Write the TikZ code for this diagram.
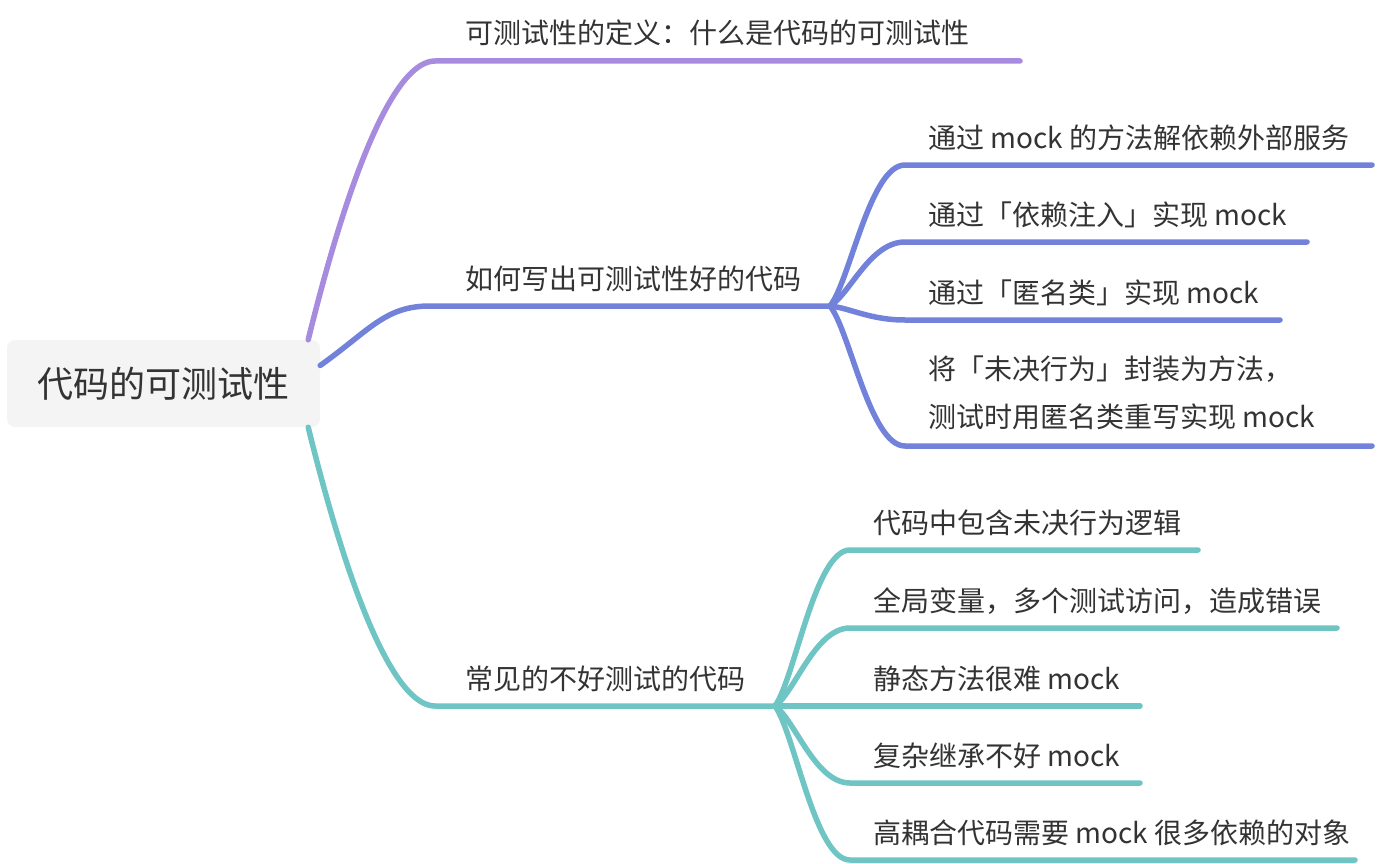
\documentclass[tikz,border=0pt]{standalone}
\usepackage{fontspec}
\setmainfont{Noto Sans CJK SC}
\usetikzlibrary{positioning}
\definecolor{defpurple}{HTML}{A78BDF}
\definecolor{howblue}{HTML}{7282DB}
\definecolor{badteal}{HTML}{6FC4C4}
\definecolor{rootgray}{HTML}{F4F4F4}
\definecolor{inkgray}{HTML}{333333}

\begin{document}
\begin{tikzpicture}[
x=1pt,y=-1pt,
root/.style={fill=rootgray, rounded corners=8pt, minimum width=313pt, minimum height=87pt, inner sep=0pt, text=inkgray, font=\fontsize{36pt}{40pt}\selectfont},
topic/.style={anchor=base west, inner sep=0pt, text=inkgray, font=\fontsize{28pt}{48pt}\selectfont, align=left},
branch/.style={line width=5.5pt, line cap=round}
]
\useasboundingbox (0,0) rectangle (1378,864);

% central topic
\node[root] (root) at (163.5,383.5) {代码的可测试性};

% first branch: definition
\node[topic] (def) at (465,44) {可测试性的定义：什么是代码的可测试性};
\coordinate (def-a) at (435,61);
\coordinate (def-b) at (1020,61);
\draw[branch, defpurple] ([xshift=-12pt]root.north east) .. controls (350,170) and (395,61) .. (def-a) -- (def-b);

% second branch: how to write testable code
\node[topic] (how) at (465,289) {如何写出可测试性好的代码};
\coordinate (how-a) at (430,306);
\coordinate (how-j) at (830,306);
\draw[branch, howblue] ([yshift=18pt]root.east) .. controls (370,330) and (385,306) .. (how-a) -- (how-j);

\node[topic] (ext) at (928,148) {通过 mock 的方法解依赖外部服务};
\node[topic] (inject) at (928,225) {通过「依赖注入」实现 mock};
\node[topic] (anon) at (928,303) {通过「匿名类」实现 mock};
\node[topic] (defer) at (928,427) {将「未决行为」封装为方法，\\测试时用匿名类重写实现 mock};
\coordinate (ext-a) at (905,165);
\coordinate (ext-b) at (1372,165);
\coordinate (inject-a) at (905,242);
\coordinate (inject-b) at (1307,242);
\coordinate (anon-a) at (905,320);
\coordinate (anon-b) at (1280,320);
\coordinate (defer-a) at (905,446);
\coordinate (defer-b) at (1372,446);
\draw[branch, howblue] (how-j) .. controls (850,281) and (870,165) .. (ext-a) -- (ext-b);
\draw[branch, howblue] (how-j) .. controls (850,294) and (870,242) .. (inject-a) -- (inject-b);
\draw[branch, howblue] (how-j) .. controls (850,308) and (870,320) .. (anon-a) -- (anon-b);
\draw[branch, howblue] (how-j) .. controls (850,331) and (870,446) .. (defer-a) -- (defer-b);

% third branch: hard-to-test code
\node[topic] (bad) at (465,689) {常见的不好测试的代码};
\coordinate (bad-a) at (435,706);
\coordinate (bad-j) at (775,706);
\draw[branch, badteal] ([xshift=-12pt]root.south east) .. controls (350,597) and (395,706) .. (bad-a) -- (bad-j);

\node[topic] (pending) at (873,533) {代码中包含未决行为逻辑};
\node[topic] (global) at (873,611) {全局变量，多个测试访问，造成错误};
\node[topic] (static) at (873,689) {静态方法很难 mock};
\node[topic] (inherit) at (873,766) {复杂继承不好 mock};
\node[topic] (couple) at (873,843) {高耦合代码需要 mock 很多依赖的对象};
\coordinate (pending-a) at (850,550);
\coordinate (pending-b) at (1198,550);
\coordinate (global-a) at (850,628);
\coordinate (global-b) at (1337,628);
\coordinate (static-b) at (1140,706);
\coordinate (inherit-a) at (850,783);
\coordinate (inherit-b) at (1140,783);
\coordinate (couple-a) at (850,860);
\coordinate (couple-b) at (1355,860);
\draw[branch, badteal] (bad-j) .. controls (795,678) and (815,550) .. (pending-a) -- (pending-b);
\draw[branch, badteal] (bad-j) .. controls (795,692) and (815,628) .. (global-a) -- (global-b);
\draw[branch, badteal] (bad-j) -- (static-b);
\draw[branch, badteal] (bad-j) .. controls (795,720) and (815,783) .. (inherit-a) -- (inherit-b);
\draw[branch, badteal] (bad-j) .. controls (795,734) and (815,860) .. (couple-a) -- (couple-b);
\end{tikzpicture}
\end{document}
